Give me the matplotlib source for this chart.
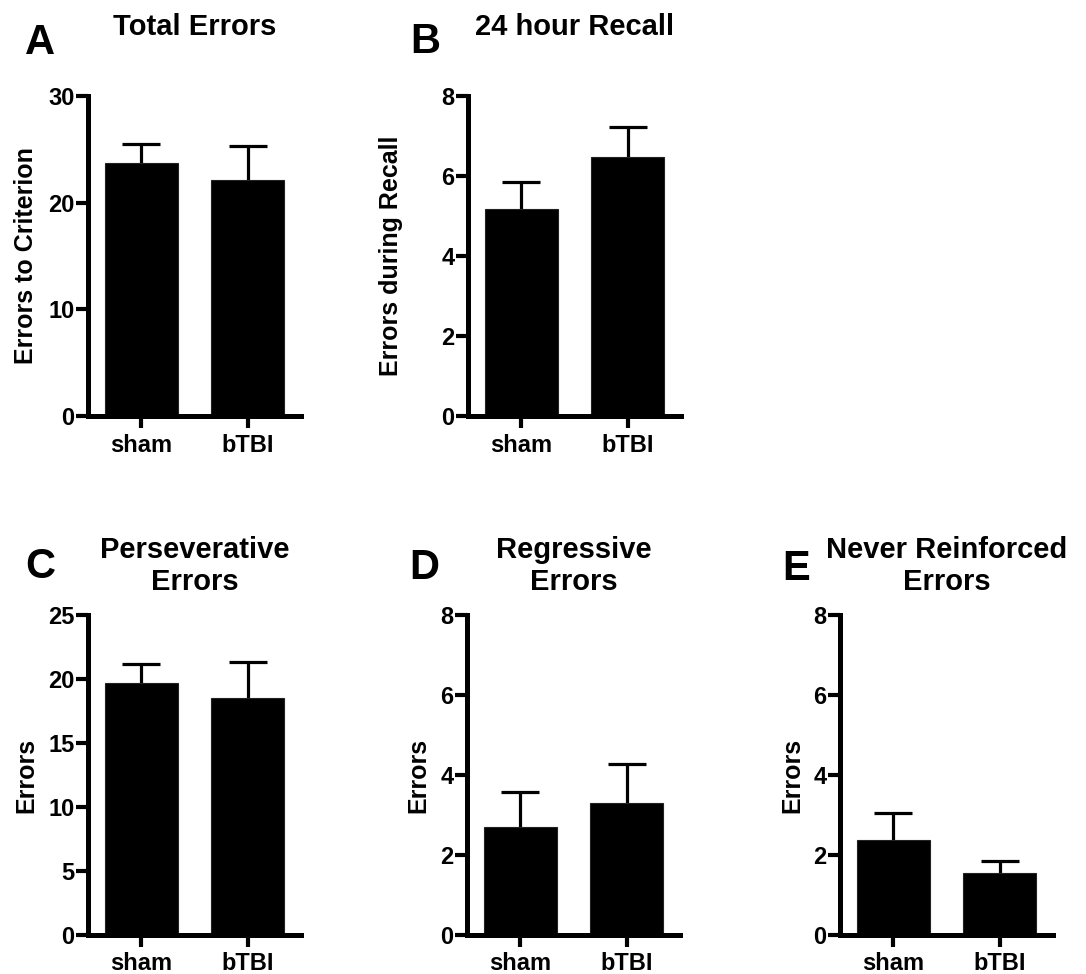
import matplotlib
matplotlib.use("Agg")
import matplotlib.pyplot as plt

plt.rcParams['font.family'] = ['Liberation Sans', 'DejaVu Sans']
plt.rcParams['font.weight'] = 'bold'
plt.rcParams['axes.labelweight'] = 'bold'
plt.rcParams['axes.titleweight'] = 'bold'

groups = ['sham', 'bTBI']

panel_letters = ['A', 'B', 'C', 'D', 'E']
titles = ['Total Errors', '24 hour Recall', 'Perseverative\nErrors',
          'Regressive\nErrors', 'Never Reinforced\nErrors']
ylabels = ['Errors to Criterion', 'Errors during Recall', 'Errors', 'Errors', 'Errors']

total_mean = [23.7, 22.1]
total_sem = [1.8, 3.2]
recall_mean = [5.17, 6.48]
recall_sem = [0.69, 0.75]
persev_mean = [19.7, 18.55]
persev_sem = [1.51, 2.8]
regress_mean = [2.71, 3.29]
regress_sem = [0.87, 0.98]
never_mean = [2.38, 1.54]
never_sem = [0.67, 0.31]

means = [total_mean, recall_mean, persev_mean, regress_mean, never_mean]
sems = [total_sem, recall_sem, persev_sem, regress_sem, never_sem]
yticks = [[0, 10, 20, 30], [0, 2, 4, 6, 8], [0, 5, 10, 15, 20, 25],
          [0, 2, 4, 6, 8], [0, 2, 4, 6, 8]]

W, H = 1086, 974
fig = plt.figure(figsize=(W / 100, H / 100), dpi=100)

# axes positions in pixels: left spine x, top y
lefts = [88, 468, 88, 467, 840]
tops = [96, 96, 615, 615, 615]
aw, ah = 213, 320
letter_x = [25, 410, 25, 409, 782]
letter_y = [54, 53, 578, 579, 580]
ylabel_x = [38, 403, 38, 430, 804]

lw = 3.6
for i in range(5):
    ax = fig.add_axes([lefts[i] / W, 1 - (tops[i] + ah) / H, aw / W, ah / H])
    x = range(len(groups))
    ax.bar(x, means[i], width=0.69, color='black', edgecolor='#222222', linewidth=0.8, zorder=2)
    eb = ax.errorbar(x, means[i], yerr=[[0, 0], sems[i]], fmt='none', ecolor='black',
                     elinewidth=2.3, capsize=13.5, capthick=2.3, zorder=1)
    # only the upper cap is wanted
    eb.lines[1][0].set_visible(False)
    ax.set_xlim(-0.5, 1.5)
    ax.set_ylim(0, yticks[i][-1])
    ax.set_yticks(yticks[i])
    ax.set_xticks(list(x))
    ax.set_xticklabels(groups)
    for s in ['top', 'right']:
        ax.spines[s].set_visible(False)
    for s in ['left', 'bottom']:
        ax.spines[s].set_linewidth(lw)
    ax.tick_params(axis='y', length=8.6, width=3, labelsize=17, pad=1)
    ax.tick_params(axis='x', length=8.6, width=3, labelsize=17, pad=4)
    ax.set_ylabel(ylabels[i], fontsize=18)
    ax.yaxis.set_label_coords((ylabel_x[i] - lefts[i]) / aw, 0.5)
    ax.set_title(titles[i], fontsize=21, pad=18 if '\n' in titles[i] else 44, linespacing=1.2)
    fig.text(letter_x[i] / W, 1 - letter_y[i] / H, panel_letters[i], fontsize=30,
             fontweight='bold', va='baseline', ha='left')

fig.savefig('out.png', dpi=100)
